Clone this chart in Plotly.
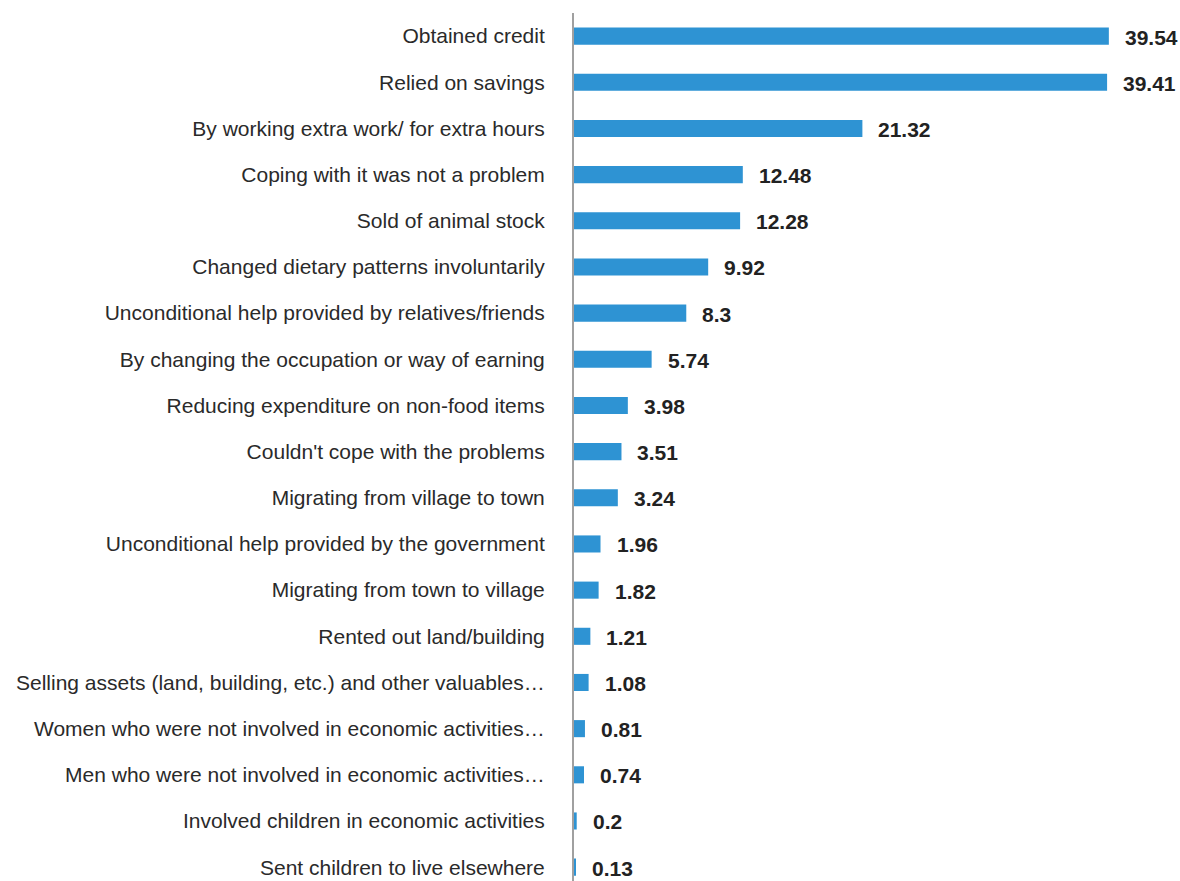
import plotly.graph_objects as go

# Coping strategies and share of respondents (%)
strategies = [
    "Obtained credit",
    "Relied on savings",
    "By working extra work/ for extra hours",
    "Coping with it was not a problem",
    "Sold of animal stock",
    "Changed dietary patterns involuntarily",
    "Unconditional help provided by relatives/friends",
    "By changing the occupation or way of earning",
    "Reducing expenditure on non-food items",
    "Couldn't cope with the problems",
    "Migrating from village to town",
    "Unconditional help provided by the government",
    "Migrating from town to village",
    "Rented out land/building",
    "Selling assets (land, building, etc.) and other valuables…",
    "Women who were not involved in economic activities…",
    "Men who were not involved in economic activities…",
    "Involved children in economic activities",
    "Sent children to live elsewhere",
]
shares = [39.54, 39.41, 21.32, 12.48, 12.28, 9.92, 8.3, 5.74, 3.98, 3.51,
          3.24, 1.96, 1.82, 1.21, 1.08, 0.81, 0.74, 0.2, 0.13]

BAR_COLOR = "#2E93D3"
FONT = "Liberation Sans, Arial, sans-serif"

fig = go.Figure(
    go.Bar(
        x=shares,
        y=strategies,
        orientation="h",
        width=0.37,
        marker=dict(color=BAR_COLOR, line=dict(width=0)),
        hoverinfo="x+y",
    )
)

# value labels at the end of each bar
for name, v in zip(strategies, shares):
    fig.add_annotation(
        x=v, y=name, text=f"<b>{v:g}</b>",
        xanchor="left", yanchor="middle", xshift=14, yshift=-1,
        showarrow=False,
        font=dict(family=FONT, size=21, color="#222222"),
    )

fig.update_layout(
    width=1180, height=881,
    margin=dict(l=574, r=0, t=13, b=0),
    paper_bgcolor="white", plot_bgcolor="white",
    showlegend=False,
    font=dict(family=FONT, size=21, color="#333333"),
    xaxis=dict(range=[0, 44.8], visible=False, fixedrange=True),
    yaxis=dict(
        type="category",
        categoryorder="array", categoryarray=strategies,
        range=[18.3, -0.5],
        showline=True, linecolor="#A0A0A0", linewidth=2,
        ticks="", showgrid=False, zeroline=False,
        ticklabelstandoff=23,
        automargin=False,
        tickfont=dict(family=FONT, size=21, color="#2A2A2A"),
    ),
)

fig.write_html("out.html")
